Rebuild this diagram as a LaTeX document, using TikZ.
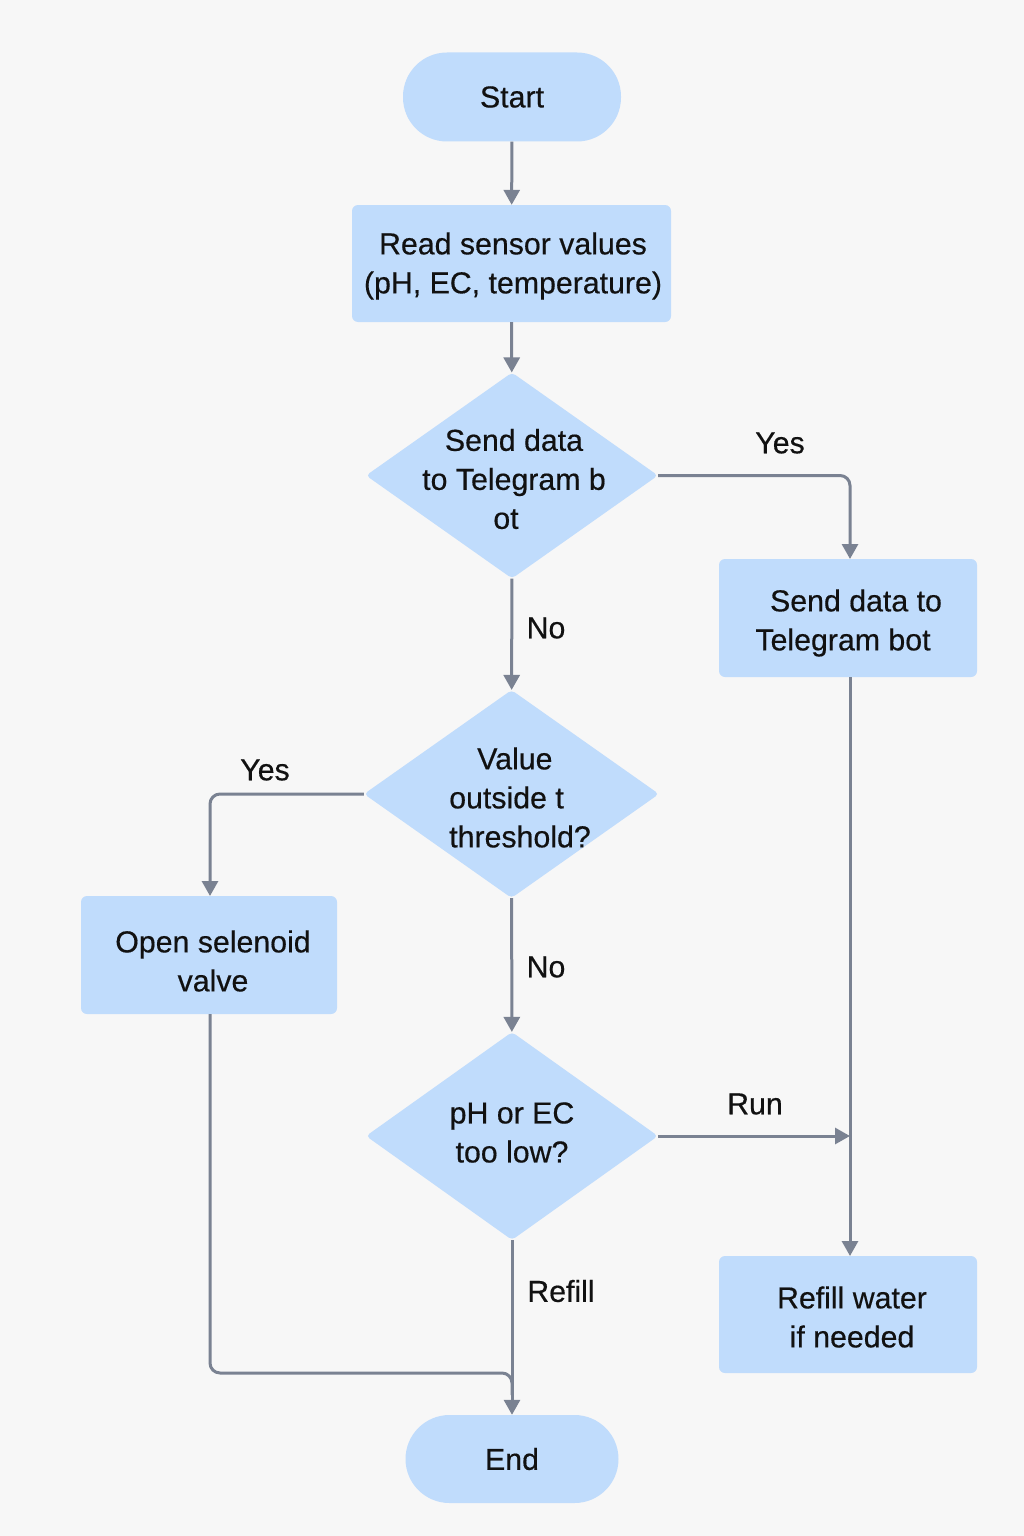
\documentclass[tikz,border=0pt]{standalone}
\usepackage{fontspec}
\setmainfont{Liberation Sans}[FakeBold=0.45]
\usetikzlibrary{shapes.geometric,arrows.meta}
\definecolor{bg}{RGB}{247,247,247}
\definecolor{boxfill}{RGB}{192,220,252}
\definecolor{linec}{RGB}{122,130,146}
\definecolor{txtc}{RGB}{17,17,17}
\begin{document}
\begin{tikzpicture}[x=1pt,y=-1pt,
  every node/.style={font=\fontsize{30.3}{39}\selectfont, text=txtc},
  term/.style={fill=boxfill, rounded corners=44pt, minimum width=218pt, minimum height=89pt, inner sep=0pt},
  proc/.style={fill=boxfill, rounded corners=6pt, inner sep=0pt},
  dia/.style={diamond, fill=boxfill, rounded corners=4pt, minimum width=292pt, minimum height=206pt, inner sep=0pt},
  txtn/.style={align=center, inner sep=0pt},
  conn/.style={draw=linec, line width=3pt},
  arr/.style={conn, -{Triangle[width=16pt,length=15pt]}},
  lab/.style={inner sep=0pt}]
  \fill[bg] (0,0) rectangle (1024,1536);
  \useasboundingbox (0,0) rectangle (1024,1536);

  \node[term] (start) at (512,97) {Start};
  \node[proc, minimum width=319pt, minimum height=117pt] (read) at (511.5,263.5) {};
  \node[txtn] (readt) at (513,266) {Read sensor values\\(pH, EC, temperature)};
  \node[dia] (d1) at (512,475.5) {};
  \node[txtn] (d1t) at (514,479) {Send data\\to Telegram b\\ot\hspace*{16pt}};
  \node[proc, minimum width=258pt, minimum height=118pt] (tg) at (848,618) {};
  \node[txtn] (tgt) at (849.5,623) {\hspace*{13pt}Send data to\\Telegram bot\hspace*{13pt}};
  \node[dia, minimum width=295pt, minimum height=208pt] (d2) at (511.5,794) {};
  \node[txtn, align=left] (d2t) at (520,797.5) {\hspace*{28pt}Value\\outside t\\threshold?};
  \node[proc, minimum width=256pt, minimum height=118pt] (open) at (209,955) {};
  \node[txtn] (opent) at (213,961) {Open selenoid\\valve};
  \node[dia, minimum height=208pt] (d3) at (512,1136) {};
  \node[txtn] (d3t) at (512,1132.5) {pH or EC\\too low?};
  \node[proc, minimum width=258pt, minimum height=117pt] (refill) at (848,1314.5) {};
  \node[txtn] (refillt) at (852,1317) {Refill water\\if needed};
  \node[term, minimum width=213pt, minimum height=88pt] (endn) at (512,1459) {End};

  \coordinate (run) at (850,1136);
  \coordinate (merge) at (512,1373);

  \draw[arr] (start) -- (read);
  \draw[arr] (read) -- (d1);
  \draw[arr, rounded corners=10pt] (d1.east) -- (850,475.5) -- (850,559);
  \draw[arr] (850,677) -- (850,1256);
  \draw[arr] (d1) -- (d2);
  \draw[arr, rounded corners=10pt] (d2.west) -- (210,794) -- (210,896);
  \draw[arr] (d2) -- (d3);
  \draw[arr] (d3.east) -- (run);
  \draw[conn, rounded corners=10pt] (210,1014) -- (210,1373) -- (merge) -- (512,1395);
  \draw[arr] (d3) -- (endn);

  \node[lab] (l1) at (780,443) {Yes};
  \node[lab] (l2) at (546,628) {No};
  \node[lab] (l3) at (265,770) {Yes};
  \node[lab] (l4) at (546,967) {No};
  \node[lab] (l5) at (755,1104) {Run};
  \node[lab] (l6) at (561,1291) {Refill};
\end{tikzpicture}
\end{document}
